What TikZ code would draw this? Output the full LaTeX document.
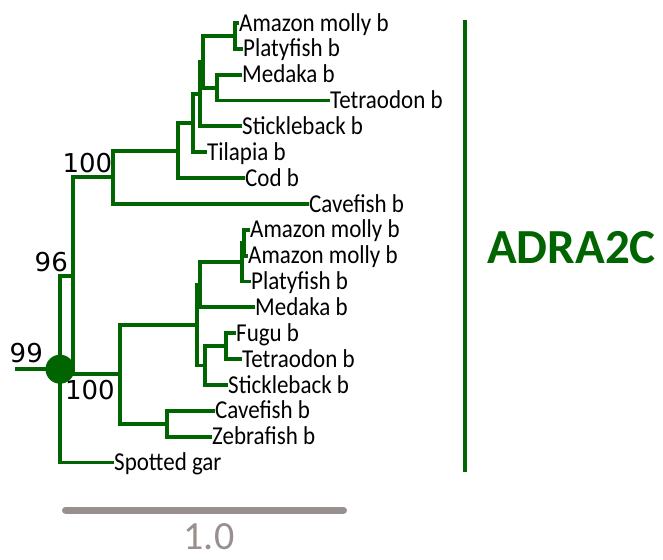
\documentclass[tikz,border=0pt]{standalone}
\usepackage{fontspec}
\usepackage{graphicx}
\newfontfamily\carlito{Carlito}
\newfontfamily\dejavu{DejaVu Sans}
\definecolor{treegreen}{RGB}{0,100,0}
\definecolor{bargray}{RGB}{152,143,143}
\newcommand\lb[1]{\scalebox{1}[1.12]{#1}}
\begin{document}
\begin{tikzpicture}[x=1pt,y=-1pt,
  branch/.style={draw=treegreen, line width=3.9pt, line cap=rect},
  leaf/.style={anchor=west, inner xsep=2pt, inner ysep=0pt, text height=16.3pt, text depth=0pt,
    font=\carlito\fontsize{23}{23}\selectfont},
  sup/.style={inner sep=0pt, font=\dejavu\fontsize{26}{26}\selectfont}]
\useasboundingbox (0,0) rectangle (663,559);
% leaf tips
\coordinate (L0) at (237,23.0);
\coordinate (L1) at (241,48.85);
\coordinate (L2) at (240,74.7);
\coordinate (L3) at (328,100.55);
\coordinate (L4) at (240,126.4);
\coordinate (L5) at (205,152.25);
\coordinate (L6) at (243,178.1);
\coordinate (L7) at (307,203.95);
\coordinate (L8) at (248,229.8);
\coordinate (L9) at (246,255.65);
\coordinate (L10) at (249,281.5);
\coordinate (L11) at (253,307.35);
\coordinate (L12) at (234,333.2);
\coordinate (L13) at (240,359.05);
\coordinate (L14) at (226,384.9);
\coordinate (L15) at (213,410.75);
\coordinate (L16) at (210,436.6);
\coordinate (L17) at (112,462.45);
% internal nodes
\coordinate (a1) at (235,35.9);
\coordinate (a2) at (217,87.6);
\coordinate (a3) at (203,61.8);
\coordinate (a4) at (200,94.1);
\coordinate (a5) at (193,123.2);
\coordinate (a6) at (178,150.6);
\coordinate (a7) at (113,177.3);
\coordinate (b1) at (244,242.7);
\coordinate (b2) at (242,262.1);
\coordinate (b3) at (200,284.7);
\coordinate (b4) at (226,346.1);
\coordinate (b5) at (205,365.5);
\coordinate (b6) at (197,325.1);
\coordinate (b7) at (167,423.7);
\coordinate (b8) at (120,374.4);
\coordinate (c1) at (73,275.9);
\coordinate (root) at (60,369.2);
\coordinate (stem) at (17,369.2);
% branches
\draw[branch] (a1) |- (L0); \draw[branch] (a1) |- (L1);
\draw[branch] (a2) |- (L2); \draw[branch] (a2) |- (L3);
\draw[branch] (a3) |- (a1); \draw[branch] (a3) |- (a2);
\draw[branch] (a4) |- (a3); \draw[branch] (a4) |- (L4);
\draw[branch] (a5) |- (a4); \draw[branch] (a5) |- (L5);
\draw[branch] (a6) |- (a5); \draw[branch] (a6) |- (L6);
\draw[branch] (a7) |- (a6); \draw[branch] (a7) |- (L7);
\draw[branch] (b1) |- (L8); \draw[branch] (b1) |- (L9);
\draw[branch] (b2) |- (b1); \draw[branch] (b2) |- (L10);
\draw[branch] (b3) |- (b2); \draw[branch] (b3) |- (L11);
\draw[branch] (b4) |- (L12); \draw[branch] (b4) |- (L13);
\draw[branch] (b5) |- (b4); \draw[branch] (b5) |- (L14);
\draw[branch] (b6) |- (b3); \draw[branch] (b6) |- (b5);
\draw[branch] (b7) |- (L15); \draw[branch] (b7) |- (L16);
\draw[branch] (b8) |- (b6); \draw[branch] (b8) |- (b7);
\draw[branch] (c1) |- (a7); \draw[branch] (c1) |- (b8);
\draw[branch] (root) |- (c1); \draw[branch] (root) |- (L17);
\draw[branch] (stem) -- (root);
\node[circle, fill=treegreen, minimum size=29pt, inner sep=0pt] (rootdot) at (root) {};
% leaf labels
\node[leaf] (t0) at (L0) {\lb{Amazon molly b}};
\node[leaf] (t1) at (L1) {\lb{Platyfish b}};
\node[leaf] (t2) at (L2) {\lb{Medaka b}};
\node[leaf] (t3) at (L3) {\lb{Tetraodon b}};
\node[leaf] (t4) at (L4) {\lb{Stickleback b}};
\node[leaf] (t5) at (L5) {\lb{Tilapia b}};
\node[leaf] (t6) at (L6) {\lb{Cod b}};
\node[leaf] (t7) at (L7) {\lb{Cavefish b}};
\node[leaf] (t8) at (L8) {\lb{Amazon molly b}};
\node[leaf] (t9) at (L9) {\lb{Amazon molly b}};
\node[leaf] (t10) at (L10) {\lb{Platyfish b}};
\node[leaf] (t11) at (L11) {\lb{Medaka b}};
\node[leaf] (t12) at (L12) {\lb{Fugu b}};
\node[leaf] (t13) at (L13) {\lb{Tetraodon b}};
\node[leaf] (t14) at (L14) {\lb{Stickleback b}};
\node[leaf] (t15) at (L15) {\lb{Cavefish b}};
\node[leaf] (t16) at (L16) {\lb{Zebrafish b}};
\node[leaf] (t17) at (L17) {\lb{Spotted gar}};
% support values
\node[sup, anchor=south east, xshift=-0.5pt, yshift=4.3pt] (s7) at (a7) {100};
\node[sup, anchor=south east, xshift=-5pt, yshift=3.9pt] (s9) at (c1) {96};
\node[sup, anchor=south east, xshift=-17pt, yshift=6pt] (sr) at (root) {99};
\node[sup, anchor=north east, xshift=-5pt, yshift=-5.6pt] (s8) at (b8) {100};
% gene bar
\coordinate (gt) at (465,20);
\coordinate (gb) at (465,472);
\draw[treegreen, line width=4pt] (gt) -- (gb);
\node[anchor=west, inner sep=0pt, text=treegreen, font=\carlito\bfseries\fontsize{49}{49}\selectfont] (gene) at (487,248) {ADRA2C};
% scale bar
\coordinate (sc1) at (65.5,510);
\coordinate (sc2) at (343.5,510);
\draw[bargray, line width=7pt, line cap=round] (sc1) -- (sc2);
\node[inner sep=0pt, text=bargray, font=\carlito\fontsize{40}{40}\selectfont] (scl) at (209,537) {1.0};
\end{tikzpicture}
\end{document}
